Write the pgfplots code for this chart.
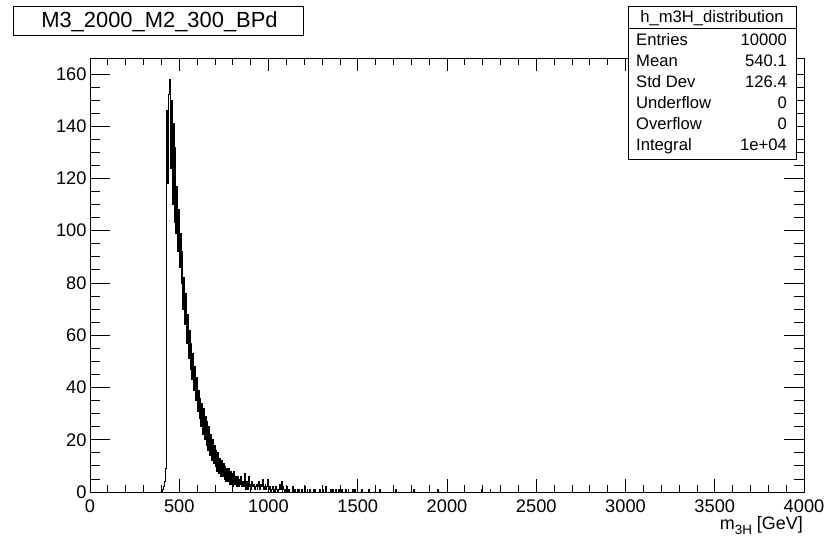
\documentclass[border=0pt]{standalone}
\usepackage{fontspec}
\setmainfont{Liberation Sans}
\usepackage{pgfplots}
\pgfplotsset{compat=1.18}
\begin{document}
\begin{tikzpicture}[x=1bp,y=1bp]
\path[use as bounding box] (0,0) rectangle (828,538);
\begin{axis}[
  at={(90bp,46bp)}, anchor=south west,
  scale only axis, width=714bp, height=433.5bp,
  xmin=0, xmax=4000, ymin=0, ymax=165.9,
  xtick distance=500, ytick distance=20,
  minor x tick num=4, minor y tick num=3,
  tick align=inside, xtick pos=both, ytick pos=both,
  xtick style={/pgfplots/major tick length=13bp,/pgfplots/minor tick length=7bp},
  ytick style={/pgfplots/major tick length=20bp,/pgfplots/minor tick length=10bp},
  axis line style={line width=0.8bp},
  every tick/.style={black, line width=0.8bp},
  ticklabel style={font=\fontsize{18.3}{18.3}\selectfont},
  /pgf/number format/assume math mode=true,
  /pgf/number format/1000 sep={},
  scaled ticks=false,
  xticklabel style={yshift=-4bp},
]
\addplot[const plot, black, line width=0.7bp, mark=none] table {
x y
395 0
400 0
405 1
410 2
415 4
420 9
425 104
430 146
435 118
440 152
445 158
450 124
455 150
460 110
465 141
470 103
475 132
480 99
485 117
490 92
495 108
500 86
505 99
510 80
515 92
520 70
525 82
530 64
535 76
540 57
545 68
550 51
555 62
560 47
565 57
570 43
575 53
580 39
585 48
590 35
595 44
600 31
605 39
610 28
615 36
620 25
625 34
630 22
635 32
640 20
645 29
650 18
655 27
660 16
665 25
670 14
675 22
680 12
685 20
690 11
695 18
700 10
705 16
710 8
715 15
720 7
725 13
730 6
735 12
740 6
745 11
750 5
755 10
760 4
765 9
770 4
775 9
780 3
785 8
790 3
795 7
800 2
805 8
810 3
815 6
820 2
825 6
830 2
835 5
840 3
845 6
850 2
855 4
860 2
865 7
870 1
875 4
880 1
885 6
890 2
895 3
900 1
905 4
910 2
915 3
920 1
925 2
930 3
935 1
940 2
945 4
950 1
955 3
960 2
965 5
970 1
975 2
980 3
985 1
990 2
995 5
1000 1
1005 2
1010 0
1015 1
1020 2
1025 0
1030 1
1035 0
1040 2
1045 1
1050 0
1055 1
1060 3
1065 1
1070 4
1075 0
1080 2
1085 1
1090 0
1095 1
1100 2
1105 0
1110 1
1115 0
1135 2
1140 0
1145 1
1150 0
1160 1
1165 0
1170 1
1175 0
1185 1
1190 0
1200 2
1205 0
1215 1
1220 0
1230 1
1235 0
1250 1
1255 0
1260 1
1265 0
1285 1
1290 0
1300 1
1305 0
1320 2
1325 0
1345 1
1350 0
1360 1
1365 0
1375 1
1380 0
1390 1
1395 0
1410 1
1415 0
1430 1
1435 0
1445 1
1450 0
1470 1
1475 0
1480 1
1485 0
1520 1
1525 0
1560 1
1565 0
1620 1
1625 0
1710 1
1715 0
1810 1
1815 0
1945 1
1950 0
2190 1
2195 0
2240 1
2245 0
4000 0
};
\end{axis}
% x axis label
\node[anchor=base east, inner sep=0] at (803,8) {\fontsize{18}{18}\selectfont m\raisebox{-4.5bp}{\fontsize{13.5}{13.5}\selectfont 3H} [GeV]};
% title box
\draw[line width=0.8bp, fill=white] (13,503) rectangle (303,532);
\node[anchor=base, inner sep=0] at (159.5,510.7) {\fontsize{22}{22}\selectfont M3\_2000\_M2\_300\_BPd};
% stats box
\draw[line width=0.8bp, fill=white] (628,379) rectangle (796,532);
\draw[line width=0.8bp] (628,510) -- (796,510);
\begin{scope}[every node/.style={inner sep=0, font=\fontsize{16.7}{16.7}\selectfont}]
\node[anchor=base] at (712,515) {h\_m3H\_distribution};
\node[anchor=base west] at (636,492.3) {Entries};
\node[anchor=base east] at (787,492.3) {10000};
\node[anchor=base west] at (636,471.3) {Mean};
\node[anchor=base east] at (787,471.3) {540.1};
\node[anchor=base west] at (636,450.7) {Std Dev};
\node[anchor=base east] at (787,450.7) {126.4};
\node[anchor=base west] at (636,429) {Underflow};
\node[anchor=base east] at (787,429) {0};
\node[anchor=base west] at (636,408) {Overflow};
\node[anchor=base east] at (787,408) {0};
\node[anchor=base west] at (636,387) {Integral};
\node[anchor=base east] at (787,387) {1e+04};
\end{scope}
\end{tikzpicture}
\end{document}
